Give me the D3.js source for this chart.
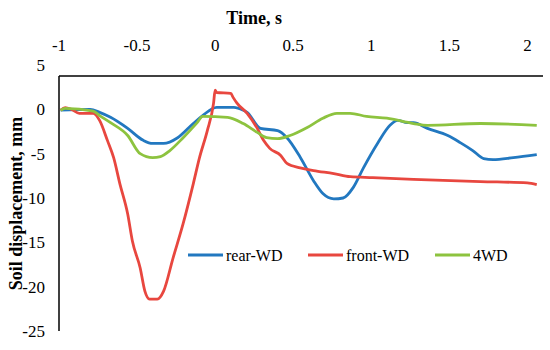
<!DOCTYPE html>
<html>
<head>
<meta charset="utf-8">
<script src="https://cdn.jsdelivr.net/npm/d3@7"></script>
<style>
  body { margin: 0; background: #fff; }
</style>
</head>
<body>
<svg id="chart" width="550" height="350"></svg>
<script>
// values
const seriesNames = ['rear-WD', 'front-WD', '4WD']
const xTicks = [-1, -0.5, 0, 0.5, 1, 1.5, 2]
const yTicks = [5, 0, -5, -10, -15, -20, -25]

const rearT = [-0.99, -0.80, -0.74, -0.67, -0.56, -0.46, -0.40, -0.33, -0.24, -0.14, -0.08, 0.01, 0.12, 0.18, 0.205, 0.29, 0.40, 0.46, 0.545, 0.63, 0.69, 0.76, 0.82, 0.885, 0.95, 1.04, 1.12, 1.17, 1.23, 1.27, 1.36, 1.49, 1.57, 1.65, 1.72, 1.78, 1.91, 2.06]
const rearV = [-0.1, 0, -0.34, -0.9, -2.15, -3.5, -3.85, -3.85, -3.2, -1.6, -0.7, 0.23, 0.23, -0.1, -0.34, -2.15, -2.4, -3.2, -5.4, -8.05, -9.5, -10.1, -10.0, -8.8, -6.6, -3.85, -1.8, -1.25, -1.5, -1.5, -2.15, -2.95, -3.75, -4.65, -5.55, -5.67, -5.44, -5.1]

const frontT = [-0.99, -0.96, -0.92, -0.87, -0.78, -0.74, -0.69, -0.65, -0.61, -0.56, -0.53, -0.48, -0.45, -0.42, -0.37, -0.33, -0.27, -0.205, -0.14, -0.10, -0.05, -0.01, 0.0, 0.01, 0.10, 0.115, 0.14, 0.205, 0.27, 0.31, 0.35, 0.42, 0.46, 0.545, 0.63, 0.76, 0.865, 1.01, 1.27, 1.70, 2.0, 2.06]
const frontV = [-0.1, 0.2, 0, -0.45, -0.45, -1.25, -3.5, -5.45, -8.4, -11.8, -14.85, -17.9, -20.5, -21.4, -21.4, -20.5, -16.8, -12.9, -8.4, -5.45, -2.4, 0.7, 2.15, 1.9, 1.8, 1.35, 0.7, -0.45, -2.15, -3.5, -4.4, -5.2, -6.1, -6.6, -6.9, -7.25, -7.6, -7.7, -7.9, -8.15, -8.3, -8.5]

const fourT = [-0.99, -0.96, -0.78, -0.74, -0.67, -0.56, -0.48, -0.40, -0.35, -0.29, -0.205, -0.115, -0.08, 0.08, 0.18, 0.27, 0.33, 0.40, 0.48, 0.59, 0.69, 0.78, 0.865, 0.97, 1.10, 1.27, 1.36, 1.70, 2.06]
const fourV = [-0.1, 0.1, -0.2, -0.7, -1.5, -2.95, -5.0, -5.45, -5.33, -4.65, -3.2, -1.5, -0.8, -0.9, -1.6, -2.6, -3.2, -3.3, -2.95, -2.05, -1.0, -0.45, -0.45, -0.8, -1.0, -1.6, -1.8, -1.6, -1.8]

const colors = ['#2278c0', '#e8473f', '#8dc33f']
const font = "'Liberation Serif', 'Times New Roman', Tinos, 'DejaVu Serif', serif"

const svg = d3.select('#chart').attr('font-family', font)

const x = d3.scaleLinear().domain([-1, 2.1]).range([59, 543])
const y = d3.scaleLinear().domain([-25, 5]).range([331, 65])

// axes (x axis on top, crossing near the top of the range)
const xAxisY = y(3.75)
svg.append('line')
  .attr('x1', x(-1)).attr('x2', x(2.1))
  .attr('y1', xAxisY).attr('y2', xAxisY)
  .attr('stroke', '#000').attr('stroke-width', 1.5)
svg.append('line')
  .attr('x1', x(-1)).attr('x2', x(-1))
  .attr('y1', xAxisY).attr('y2', y(-25))
  .attr('stroke', '#000').attr('stroke-width', 1.5)

svg.append('g').selectAll('text').data(xTicks).join('text')
  .attr('x', d => x(d))
  .attr('y', 51)
  .attr('text-anchor', 'middle')
  .attr('font-family', font)
  .attr('font-size', 17)
  .text(d => d)

svg.append('g').selectAll('text').data(yTicks).join('text')
  .attr('x', 45)
  .attr('y', d => y(d) + 6)
  .attr('text-anchor', 'end')
  .attr('font-family', font)
  .attr('font-size', 17)
  .text(d => d)

// titles
svg.append('text')
  .attr('x', x(0.25)).attr('y', 24)
  .attr('text-anchor', 'middle')
  .attr('font-family', font)
  .attr('font-size', 18).attr('font-weight', 'bold')
  .text('Time, s')
svg.append('text')
  .attr('transform', `translate(22,${(xAxisY + y(-25)) / 2}) rotate(-90)`)
  .attr('text-anchor', 'middle')
  .attr('font-family', font)
  .attr('font-size', 18).attr('font-weight', 'bold')
  .text('Soil displacement, mm')

// lines
const line = d3.line()
  .x(d => x(d[0]))
  .y(d => y(d[1]))
  .curve(d3.curveMonotoneX)

const series = [
  d3.zip(rearT, rearV),
  d3.zip(frontT, frontV),
  d3.zip(fourT, fourV)
]
svg.append('g').selectAll('path').data(series).join('path')
  .attr('d', line)
  .attr('fill', 'none')
  .attr('stroke', (d, i) => colors[i])
  .attr('stroke-width', 2.8)
  .attr('stroke-linejoin', 'round')

// legend
const legendX = [188, 308, 435]
const legend = svg.append('g').selectAll('g').data(seriesNames).join('g')
  .attr('transform', (d, i) => `translate(${legendX[i]},255)`)
legend.append('line')
  .attr('x1', 0).attr('x2', 35)
  .attr('stroke', (d, i) => colors[i])
  .attr('stroke-width', 2.8)
legend.append('text')
  .attr('x', 38).attr('y', 5.5)
  .attr('font-family', font)
  .attr('font-size', 16)
  .text(d => d)
</script>
</body>
</html>
